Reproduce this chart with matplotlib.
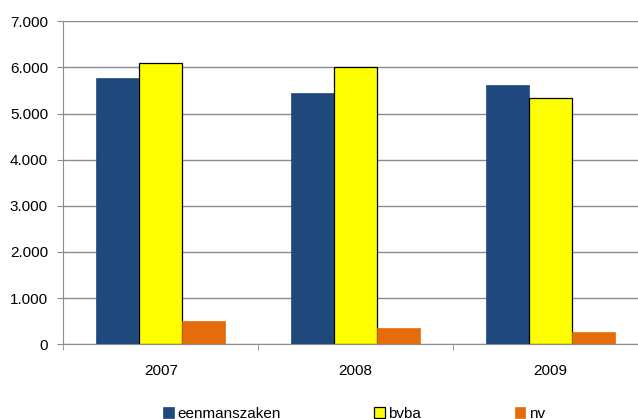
import matplotlib
matplotlib.use('Agg')
from matplotlib import pyplot as plt
from matplotlib.ticker import FuncFormatter, FixedLocator
import numpy as np

jaren = ['2007', '2008', '2009']
eenmanszaken = [5780, 5450, 5610]
bvba = [6090, 6000, 5330]
nv = [500, 350, 260]

plt.rcParams['font.family'] = ['Liberation Sans', 'DejaVu Sans']
plt.rcParams['font.size'] = 11

fig = plt.figure(figsize=(6.38, 4.19), dpi=100)
ax = fig.add_axes([0.0992, 0.1783, 0.9165, 0.771])

x = np.arange(len(jaren)) + 0.5
breedte = 0.22
ax.bar(x - breedte, eenmanszaken, breedte, color='#1F497D', edgecolor='#1F497D', linewidth=0.5, label='eenmanszaken', zorder=3)
ax.bar(x, bvba, breedte, color='#FFFF00', edgecolor='black', linewidth=0.9, label='bvba', zorder=3)
ax.bar(x + breedte, nv, breedte, color='#E46C0A', edgecolor='#E46C0A', linewidth=0.5, label='nv', zorder=3)

ax.set_xlim(0, 3)
ax.set_ylim(0, 7000)
ax.set_yticks(range(0, 7001, 1000))
ax.yaxis.set_major_formatter(FuncFormatter(lambda v, p: f'{int(v):,}'.replace(',', '.')))
ax.yaxis.grid(True, color='#8c8c8c', linewidth=1.0, zorder=0)

ax.set_xticks(x)
ax.set_xticklabels(jaren)
ax.xaxis.set_minor_locator(FixedLocator([0, 1, 2, 3]))
ax.tick_params(axis='x', which='major', length=0, pad=14)
ax.tick_params(axis='x', which='minor', length=4, color='#8c8c8c', direction='out')
ax.tick_params(axis='y', length=4, color='#8c8c8c', pad=7)

for kant in ['top', 'right']:
    ax.spines[kant].set_visible(False)
ax.spines['left'].set_color('#8c8c8c')
ax.spines['bottom'].set_color('#8c8c8c')
ax.set_axisbelow(True)

fig.legend(loc='center', bbox_to_anchor=(0.555, 0.013), ncol=3, frameon=False,
           handlelength=0.7, handleheight=0.7, handletextpad=0.25, columnspacing=6.1,
           fontsize=11)

fig.savefig('out.png', dpi=100)
plt.close()
